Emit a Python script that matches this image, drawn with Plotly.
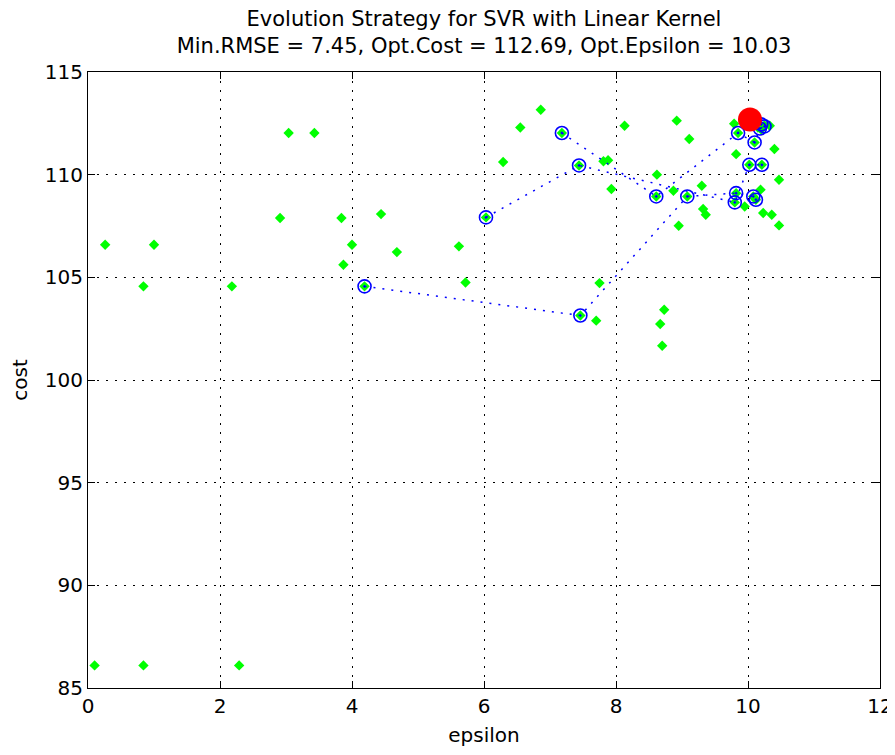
import plotly.graph_objects as go

# Population (green diamonds)
pop_eps = [0.10, 0.84, 2.29, 0.26, 1.00, 0.84, 2.18, 3.04, 3.43, 2.91, 3.84, 4.44, 4.00, 4.68,
           3.87, 4.19, 5.62, 5.72, 6.03, 6.29, 6.55, 6.86, 7.18, 7.44, 7.81, 7.88, 8.13, 7.93,
           8.62, 8.61, 7.75, 7.70, 7.46, 8.73, 8.67, 8.70, 8.92, 9.11, 9.79, 10.33, 9.82, 10.40,
           10.47, 10.19, 9.95, 10.23, 10.36, 10.47, 8.87, 9.30, 9.32, 9.36, 8.95, 9.08, 10.02,
           10.21, 10.10, 9.85, 10.12, 9.82, 9.80, 10.08, 10.15, 10.25, 10.20]
pop_cost = [86.1, 86.1, 86.1, 106.59, 106.59, 104.56, 104.56, 112.03, 112.03, 107.89, 107.89,
            108.08, 106.59, 106.23, 105.61, 104.56, 106.51, 104.75, 107.92, 110.62, 112.30,
            113.16, 112.03, 110.45, 110.65, 110.70, 112.38, 109.30, 110.00, 108.94, 104.72,
            102.89, 103.14, 103.42, 102.73, 101.67, 112.63, 111.74, 112.48, 112.38, 111.00,
            111.25, 109.75, 109.27, 108.45, 108.13, 108.05, 107.53, 109.22, 109.46, 108.33,
            108.05, 107.51, 108.94, 110.48, 110.48, 111.57, 112.03, 108.78, 109.10, 108.65,
            108.94, 112.30, 112.40, 112.20]

# Best-per-generation path (blue circles, dotted), None = break between runs
best_eps = [4.19, 7.46, 9.08, 9.82, 10.08, 10.12, None,
            6.03, 7.44, 9.80, 10.02, 10.21, None,
            7.18, 8.61, 9.85, 10.10, 10.18, 10.25, 10.20]
best_cost = [104.56, 103.14, 108.94, 109.10, 108.94, 108.78, None,
             107.92, 110.45, 108.65, 110.48, 110.48, None,
             112.03, 108.94, 112.03, 111.57, 112.25, 112.35, 112.45]

opt_eps = [10.03]
opt_cost = [112.69]

x_ticks = [0, 2, 4, 6, 8, 10, 12]
y_ticks = [85, 90, 95, 100, 105, 110, 115]

title_lines = ["Evolution Strategy for SVR with Linear Kernel",
               "Min.RMSE = 7.45, Opt.Cost = 112.69, Opt.Epsilon = 10.03"]

W, H = 887, 739

fig = go.Figure()
fig.add_trace(go.Scatter(x=pop_eps, y=pop_cost, mode="markers",
                         marker=dict(symbol="diamond", size=8, color="#00FF00",
                                     line=dict(width=0)),
                         showlegend=False, hoverinfo="x+y"))
fig.add_trace(go.Scatter(x=best_eps, y=best_cost, mode="lines+markers",
                         connectgaps=False,
                         line=dict(color="#0000FF", width=1.5, dash="2px,7px"),
                         marker=dict(symbol="circle-open-dot", size=13, color="#0000FF",
                                     line=dict(width=1.6, color="#0000FF")),
                         showlegend=False))
fig.add_trace(go.Scatter(x=opt_eps, y=opt_cost, mode="markers",
                         marker=dict(symbol="circle", size=24, color="#FF0000",
                                     line=dict(width=0)),
                         showlegend=False))

font_main = "DejaVu Sans, Verdana, sans-serif"
axis_common = dict(showline=True, linecolor="black", linewidth=1, mirror="ticks",
                   ticks="inside", ticklen=7, tickcolor="black", tickwidth=1,
                   showgrid=True, gridcolor="black", gridwidth=1, griddash="2px,7px",
                   zeroline=False, automargin=False,
                   tickfont=dict(family=font_main, size=20, color="black"))

fig.update_xaxes(range=[0, 12], tickvals=x_ticks, ticktext=[str(v) for v in x_ticks],
                 title=dict(text="epsilon", font=dict(family=font_main, size=20, color="black"),
                            standoff=14),
                 **axis_common)
fig.update_yaxes(range=[85, 115], tickvals=y_ticks, ticktext=[str(v) for v in y_ticks],
                 title=dict(text="cost", font=dict(family=font_main, size=20, color="black"),
                            standoff=16),
                 **axis_common)

fig.update_layout(
    width=W, height=H,
    margin=dict(l=80, r=15, t=64, b=59, autoexpand=False),
    paper_bgcolor="white", plot_bgcolor="white",
    title=dict(text="<br>".join(title_lines), x=476 / W, xanchor="center",
               y=1 - 18 / H, yanchor="bottom", yref="container",
               font=dict(family=font_main, size=21, color="black")),
    showlegend=False,
)

fig.write_html("out.html")
